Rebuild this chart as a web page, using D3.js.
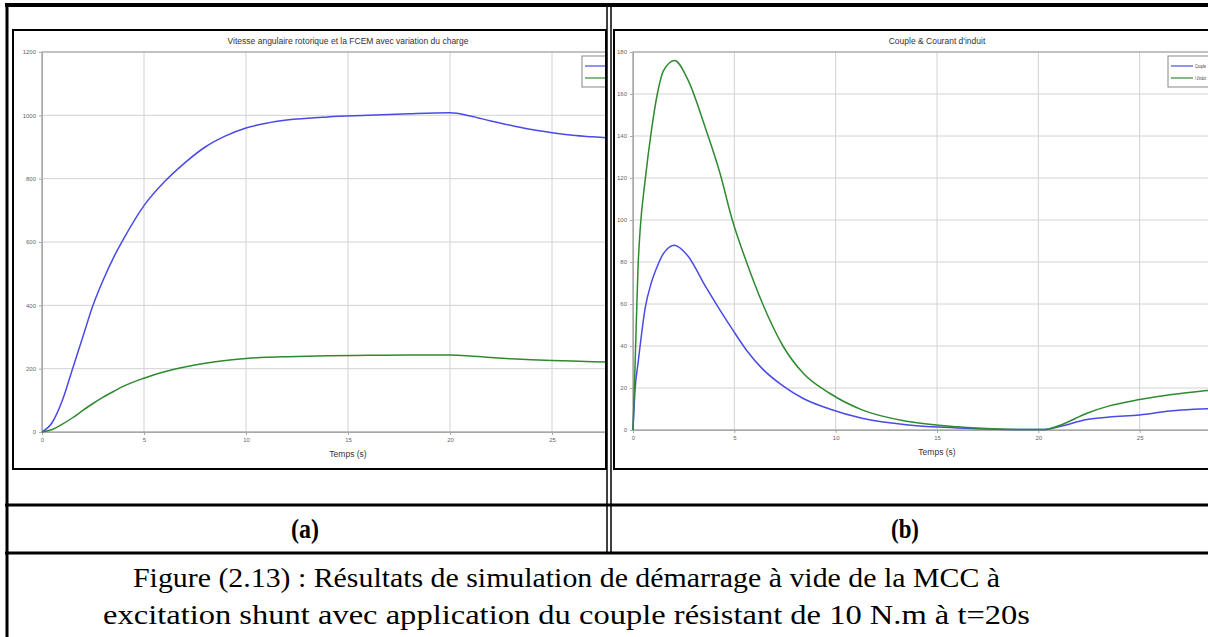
<!DOCTYPE html>
<html>
<head>
<meta charset="utf-8">
<script src="https://cdn.jsdelivr.net/npm/d3@7"></script>
<style>
  body { margin: 0; background: #fff; }
  svg { display: block; }
  .tick text { font-family: Arial, "Liberation Sans", sans-serif; font-size: 6px; fill: #666; }
  .ttl { font-family: Arial, "Liberation Sans", sans-serif; font-size: 8.5px; fill: #333; }
</style>
</head>
<body>
<script>
// ---- data ----
// (a) vitesse angulaire et FCEM
const timeA = [0, 0.5, 1, 1.5, 2, 2.5, 3, 3.5, 4, 5, 6, 7, 8, 9, 10, 11, 12, 14, 16, 18, 20, 21, 22, 23, 24, 25, 26, 27, 28, 30];
const vitesse = [0, 30, 100, 200, 300, 400, 480, 550, 610, 715, 790, 850, 900, 935, 960, 975, 985, 995, 1000, 1005, 1008, 998, 982, 968, 955, 945, 937, 932, 928, 925];
const fcem = [0, 8, 25, 45, 68, 90, 110, 128, 145, 170, 190, 205, 217, 226, 232, 236, 238, 241, 242, 243, 243, 240, 235, 231, 228, 226, 224, 222, 221, 220];
const yTicksA = [0, 200, 400, 600, 800, 1000, 1200];

// (b) couple et courant d'induit
const timeB = [0, 0.1, 0.25, 0.35, 0.6, 0.9, 1.2, 1.5, 2.05, 2.7, 3.6, 4.3, 4.9, 5.6, 6.4, 7.4, 8.4, 9.7, 11.3, 13.6, 16, 18, 20, 20.3, 21, 22.4, 23.5, 25, 26.5, 28, 30];
const couple = [0, 19, 32, 40, 58, 70, 78, 84, 88, 83, 68, 57, 48, 38, 29, 21, 15, 10, 5.6, 2.4, 1, 0.4, 0.2, 0.2, 1.5, 5, 6.2, 7.2, 9, 10, 10.3];
const courant = [0, 30, 78, 95, 119, 142, 160, 171, 176, 167, 143, 122, 100, 80, 60, 40, 27, 17.5, 9.6, 4, 1.5, 0.5, 0.2, 0.2, 2, 8, 11.5, 14.5, 16.8, 18.5, 19.5];
const yTicksB = [0, 20, 40, 60, 80, 100, 120, 140, 160, 180];

const xTicks = [0, 5, 10, 15, 20, 25, 30];
const titleA = "Vitesse angulaire rotorique et la FCEM avec variation du charge";
const titleB = "Couple & Courant d'induit";
const legendA = ["Vitesse", "FCEM"];
const legendB = ["Couple", "I d'induit"];

const W = 1208, H = 637;
const svg = d3.select("body").append("svg").attr("width", W).attr("height", H);
const defs = svg.append("defs");

function panel(id, box, xRange, yRange, yMax, yTicks, series, names, title, legendX) {
  defs.append("clipPath").attr("id", id)
    .append("rect").attr("x", box.x).attr("y", box.y).attr("width", box.w).attr("height", box.h);
  const g = svg.append("g").attr("clip-path", `url(#${id})`);

  const x = d3.scaleLinear().domain([0, 30]).range(xRange);
  const y = d3.scaleLinear().domain([0, yMax]).range(yRange);
  const right = Math.min(box.x + box.w, W);
  // only the ticks that fall inside the visible part of the image
  const xShown = xTicks.filter(d => x(d) < right - 4);

  // grid
  g.append("g").selectAll("line").data(xTicks).join("line")
    .attr("x1", d => x(d)).attr("x2", d => x(d))
    .attr("y1", yRange[0]).attr("y2", yRange[1])
    .attr("stroke", "#d2d2d2").attr("stroke-width", 1);
  g.append("g").selectAll("line").data(yTicks).join("line")
    .attr("x1", xRange[0]).attr("x2", xRange[1])
    .attr("y1", d => y(d)).attr("y2", d => y(d))
    .attr("stroke", "#d2d2d2").attr("stroke-width", 1);

  // box
  g.append("rect").attr("x", xRange[0]).attr("y", yRange[1])
    .attr("width", xRange[1] - xRange[0]).attr("height", yRange[0] - yRange[1])
    .attr("fill", "none").attr("stroke", "#a8a8a8").attr("stroke-width", 1.2);

  const xAxis = d3.axisBottom(x).tickValues(xShown).tickSize(3).tickPadding(3).tickFormat(d3.format("d"));
  const yAxis = d3.axisLeft(y).tickValues(yTicks).tickSize(3).tickPadding(3).tickFormat(d3.format("d"));
  const gx = g.append("g").attr("transform", `translate(0,${yRange[0]})`).call(xAxis);
  const gy = g.append("g").attr("transform", `translate(${xRange[0]},0)`).call(yAxis);
  [gx, gy].forEach(a => {
    a.select(".domain").attr("stroke", "#a8a8a8");
    a.selectAll(".tick line").attr("stroke", "#a8a8a8");
  });

  // curves
  const colors = ["#4a4ae8", "#2f8a2f"];
  series.forEach((s, i) => {
    const line = d3.line().x(d => x(d[0])).y(d => y(d[1])).curve(d3.curveMonotoneX);
    g.append("path").datum(s)
      .attr("d", line).attr("fill", "none")
      .attr("stroke", colors[i]).attr("stroke-width", 1.5);
  });

  // titles
  const cx = (xRange[0] + xRange[1]) / 2;
  g.append("text").attr("class", "ttl").attr("x", cx).attr("y", yRange[1] - 8)
    .attr("text-anchor", "middle").text(title);
  g.append("text").attr("class", "ttl").attr("x", cx).attr("y", yRange[0] + 25)
    .attr("text-anchor", "middle").text("Temps (s)");

  // legend (squeezed so the visible part stays inside the frame)
  const lg = g.append("g").attr("transform", `translate(${legendX},${yRange[1] + 4})`);
  lg.append("rect").attr("width", 70).attr("height", 31)
    .attr("fill", "#fff").attr("stroke", "#888").attr("stroke-width", 1);
  const room = right - 2 - (legendX + 27);
  names.forEach((n, i) => {
    lg.append("line").attr("x1", 3).attr("x2", 25)
      .attr("y1", 10 + i * 12).attr("y2", 10 + i * 12)
      .attr("stroke", colors[i]).attr("stroke-width", 1.2);
    const t = lg.append("text").attr("class", "ttl").style("font-size", "6px")
      .attr("x", 27).attr("y", 12 + i * 12).text(n);
    if (room > 4) t.attr("textLength", room).attr("lengthAdjust", "spacingAndGlyphs");
  });

  // image frame
  svg.append("rect").attr("x", box.x).attr("y", box.y).attr("width", box.w).attr("height", box.h)
    .attr("fill", "none").attr("stroke", "#000").attr("stroke-width", 2);
}

panel("clipA", {x: 13, y: 30, w: 593, h: 439}, [42, 654], [432, 52], 1200, yTicksA,
  [timeA.map((t, i) => [t, vitesse[i]]), timeA.map((t, i) => [t, fcem[i]])],
  legendA, titleA, 582);

panel("clipB", {x: 614, y: 30, w: 600, h: 439}, [633, 1241], [430, 52], 180, yTicksB,
  [timeB.map((t, i) => [t, couple[i]]), timeB.map((t, i) => [t, courant[i]])],
  legendB, titleB, 1168);

// table borders
const tb = svg.append("g").attr("stroke", "#000");
tb.append("line").attr("x1", 5).attr("x2", W).attr("y1", 5).attr("y2", 5).attr("stroke-width", 4);
tb.append("line").attr("x1", 7).attr("x2", 7).attr("y1", 3).attr("y2", H).attr("stroke-width", 3);
tb.append("line").attr("x1", 5).attr("x2", W).attr("y1", 505).attr("y2", 505).attr("stroke-width", 3);
tb.append("line").attr("x1", 5).attr("x2", W).attr("y1", 553).attr("y2", 553).attr("stroke-width", 3);
tb.append("line").attr("x1", 607).attr("x2", 607).attr("y1", 5).attr("y2", 553).attr("stroke-width", 1.5);
tb.append("line").attr("x1", 611).attr("x2", 611).attr("y1", 5).attr("y2", 553).attr("stroke-width", 1.5);

// labels
const serif = "'Liberation Serif', 'Times New Roman', serif";
[["(a)", 305], ["(b)", 905]].forEach(([t, px]) => {
  svg.append("text").attr("x", px - 14).attr("y", 538)
    .attr("textLength", 28).attr("lengthAdjust", "spacingAndGlyphs")
    .style("font-family", serif).style("font-weight", "bold").style("font-size", "28px").text(t);
});

const caption = [
  "Figure (2.13) : Résultats de simulation de démarrage à vide de la MCC à",
  "excitation shunt avec application du couple résistant de 10 N.m à t=20s"
];
const capX = [133, 103], capW = [867, 927];
svg.selectAll(".cap").data(caption).join("text")
  .attr("class", "cap")
  .attr("x", (d, i) => capX[i]).attr("y", (d, i) => 587 + i * 37)
  .attr("textLength", (d, i) => capW[i]).attr("lengthAdjust", "spacingAndGlyphs")
  .style("font-family", serif).style("font-size", "28px").text(d => d);
</script>
</body>
</html>
